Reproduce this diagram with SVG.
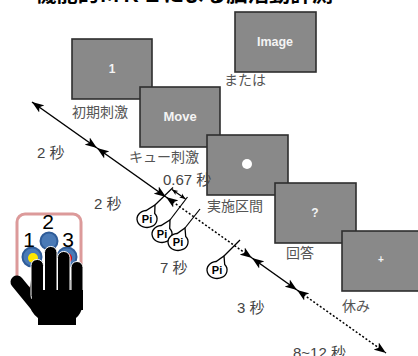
<svg xmlns="http://www.w3.org/2000/svg" width="418" height="356" viewBox="0 0 418 356">
  <style>
    .box { fill: #898989; stroke: #2e2e2e; stroke-width: 1.6; }
    .boxtxt { fill: #f4f4f4; font-family: "Liberation Sans", Arial, sans-serif; font-weight: bold; text-anchor: middle; }
    .lbl { fill: #555; font-family: "Noto Sans CJK JP", "Liberation Sans", sans-serif; font-size: 14px; }
    .sec { fill: #444; font-family: "Liberation Sans", "Noto Sans CJK JP", sans-serif; font-size: 15px; }
    .axis { stroke: #000; stroke-width: 1.5; fill: none; }
    .dot { stroke-dasharray: 2 2; }
    .tick { stroke: #000; stroke-width: 1.2; fill: none; }
    .bubble { fill: #fff; stroke: #000; stroke-width: 1.3; }
    .pi { fill: #000; font-family: "Liberation Sans", Arial, sans-serif; font-weight: bold; font-size: 11px; text-anchor: middle; }
    .num { fill: #000; font-family: "Liberation Sans", Arial, sans-serif; font-size: 21px; text-anchor: middle; }
  </style>
  <defs>
    <marker id="arr" markerUnits="userSpaceOnUse" markerWidth="12" markerHeight="10" refX="12" refY="5" orient="auto-start-reverse">
      <path d="M0,0.5 L12,5 L0,9.5 L3,5 Z" fill="#000"/>
    </marker>
    <marker id="arrS" markerUnits="userSpaceOnUse" markerWidth="6" markerHeight="6" refX="6" refY="3" orient="auto-start-reverse">
      <path d="M0,0.5 L6,3 L0,5.5 L1.5,3 Z" fill="#000"/>
    </marker>
  </defs>

  <!-- title, running off the top edge -->
  <text x="35" y="1.5" font-family="Noto Sans CJK JP, sans-serif" font-weight="bold" font-size="20" textLength="298" lengthAdjust="spacingAndGlyphs" fill="#000">機能的ＭＲＩによる脳活動計測</text>

  <!-- stimulus screens, each later one overlapping the previous -->
  <g id="screen-image">
    <rect class="box" x="235" y="12" width="81" height="60"/>
    <text class="boxtxt" x="275" y="46" font-size="12.5">Image</text>
    <text class="lbl" x="224" y="85" font-size="12">または</text>
  </g>
  <g id="screen-initial">
    <rect class="box" x="72" y="39" width="80" height="60"/>
    <text class="boxtxt" x="112" y="73" font-size="12">1</text>
    <text class="lbl" x="72" y="117">初期刺激</text>
  </g>
  <g id="screen-cue">
    <rect class="box" x="140" y="87" width="80" height="60"/>
    <text class="boxtxt" x="180" y="121" font-size="13">Move</text>
    <text class="lbl" x="129" y="162">キュー刺激</text>
  </g>
  <g id="screen-task">
    <rect class="box" x="207" y="135" width="81" height="60"/>
    <circle cx="247" cy="164" r="5" fill="#fff"/>
    <text class="lbl" x="207" y="211">実施区間</text>
  </g>
  <g id="screen-answer">
    <rect class="box" x="275" y="183" width="81" height="60"/>
    <text class="boxtxt" x="315" y="217" font-size="12">?</text>
    <text class="lbl" x="286" y="258">回答</text>
  </g>
  <g id="screen-rest">
    <rect class="box" x="342" y="231" width="80" height="60"/>
    <text class="boxtxt" x="381" y="263" font-size="10">+</text>
    <text class="lbl" x="342" y="311">休み</text>
  </g>

  <!-- timeline -->
  <g id="connectors">
    <line class="axis" x1="32" y1="102" x2="97" y2="148" marker-start="url(#arr)" marker-end="url(#arr)"/>
    <line class="axis" x1="97" y1="148" x2="166" y2="197" marker-start="url(#arr)" marker-end="url(#arr)"/>
    <line class="axis dot" x1="166" y1="197" x2="252" y2="258" marker-start="url(#arr)" marker-end="url(#arr)"/>
    <line class="axis" x1="252" y1="258" x2="297" y2="290" marker-start="url(#arr)" marker-end="url(#arr)"/>
    <line class="axis dot" x1="297" y1="290" x2="386" y2="353" marker-start="url(#arr)" marker-end="url(#arr)"/>
    <!-- 0.67 s spacing between button presses -->
    <line class="tick" x1="172" y1="189.5" x2="185.5" y2="199" marker-start="url(#arrS)" marker-end="url(#arrS)"/>
    <!-- press ticks -->
    <line class="tick" x1="155" y1="205" x2="173" y2="187.5"/>
    <line class="tick" x1="170" y1="220" x2="187.5" y2="197"/>
    <line class="tick" x1="185" y1="228" x2="200" y2="209"/>
    <line class="tick" x1="224" y1="256" x2="240" y2="240"/>
  </g>

  <!-- Pi callouts -->
  <g id="pi-1">
    <path class="bubble" d="M146.1,210.5 A10,8.5 0 1 0 154.7,213.5 L155,205 Z"/>
    <text class="pi" x="147" y="223">Pi</text>
  </g>
  <g id="pi-2">
    <path class="bubble" d="M161.1,225.5 A10,8.5 0 1 0 169.7,228.5 L170,220 Z"/>
    <text class="pi" x="162" y="238">Pi</text>
  </g>
  <g id="pi-3">
    <path class="bubble" d="M177.1,233.5 A10,8.5 0 1 0 185.7,236.5 L185,228 Z"/>
    <text class="pi" x="178" y="246">Pi</text>
  </g>
  <g id="pi-4">
    <path class="bubble" d="M216.1,261.5 A10,8.5 0 1 0 224.7,264.5 L224,256 Z"/>
    <text class="pi" x="217" y="274">Pi</text>
  </g>

  <!-- durations -->
  <g id="durations">
    <text class="sec" x="37" y="158">2 秒</text>
    <text class="sec" x="94" y="209">2 秒</text>
    <text class="sec" x="163" y="184.5" font-size="10" fill="#555">0.67 秒</text>
    <text class="sec" x="160" y="273">7 秒</text>
    <text class="sec" x="237" y="313">3 秒</text>
    <text class="sec" x="293" y="358">8~12 秒</text>
  </g>

  <!-- response pad and hand -->
  <g id="response-pad">
    <rect x="17" y="214" width="64" height="74" rx="8" fill="none" stroke="#dc9a9a" stroke-width="3"/>
    <circle cx="49" cy="241" r="8.5" fill="#4a7ab6" stroke="#2f5c98" stroke-width="2"/>
    <circle cx="32" cy="257" r="9.5" fill="#4a7ab6" stroke="#2f5c98" stroke-width="2"/>
    <circle cx="67" cy="257" r="9.5" fill="#4a7ab6" stroke="#2f5c98" stroke-width="2"/>
    <circle cx="33" cy="258" r="5" fill="#ffe600"/>
    <circle cx="67" cy="258" r="5" fill="#e00000"/>
    <text class="num" x="29" y="247">1</text>
    <text class="num" x="48" y="229">2</text>
    <text class="num" x="68" y="247">3</text>
  </g>
  <g id="hand" fill="#000">
    <line x1="17" y1="282" x2="35" y2="304" stroke="#000" stroke-width="13" stroke-linecap="round"/>
    <path d="M31,280 L83,280 L83,305 Q81,314 76,318 L76,325 L38,325 L38,318 Q30,312 28,300 Z"/>
    <rect x="31" y="259.5" width="12.5" height="42" rx="6" stroke="#fff" stroke-width="1"/>
    <rect x="44.5" y="246.5" width="12.5" height="55" rx="6" stroke="#fff" stroke-width="1"/>
    <rect x="57.5" y="251.5" width="12.5" height="50" rx="6" stroke="#fff" stroke-width="1"/>
    <rect x="71" y="261.5" width="12" height="40" rx="6" stroke="#fff" stroke-width="1"/>
    <rect x="32" y="290" width="51" height="20"/>
  </g>
</svg>
